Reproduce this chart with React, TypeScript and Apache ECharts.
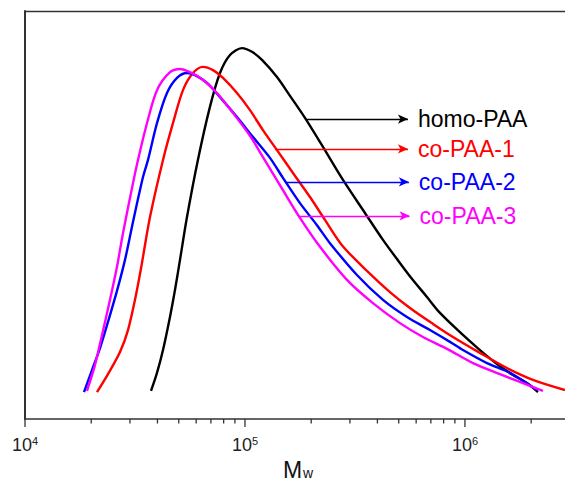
import React, { useEffect, useRef } from "react";
import * as echarts from "echarts";

const seriesNames = ["homo-PAA", "co-PAA-1", "co-PAA-2", "co-PAA-3"];
const seriesColors = ["#000000", "#ff0000", "#0000ff", "#ff00ff"];

const homoX = [37400, 39810, 42400, 45610, 48060, 50650, 54500, 61100, 69300, 77000, 85500, 96900, 107600, 119500, 139800, 160200, 187400, 226200, 279000, 351200, 424000, 491000, 562000, 672000, 770000, 979000, 1170000, 1398000, 1653000, 1913000, 2147000];
const homoY = [0.069, 0.113, 0.169, 0.25, 0.316, 0.39, 0.495, 0.635, 0.765, 0.848, 0.892, 0.909, 0.9, 0.88, 0.838, 0.792, 0.738, 0.667, 0.586, 0.505, 0.439, 0.392, 0.35, 0.299, 0.26, 0.206, 0.169, 0.135, 0.108, 0.088, 0.066];

const co1X = [21250, 23840, 27030, 29390, 31620, 33700, 37000, 42400, 47060, 52260, 58010, 64450, 71550, 79430, 91960, 105400, 120700, 139800, 165300, 197500, 231000, 276000, 358500, 456100, 562300, 715500, 882000, 1170000, 1552000, 2037000, 2848000];
const co1Y = [0.066, 0.11, 0.164, 0.218, 0.292, 0.37, 0.495, 0.635, 0.725, 0.806, 0.848, 0.863, 0.855, 0.836, 0.799, 0.757, 0.708, 0.659, 0.603, 0.544, 0.488, 0.426, 0.363, 0.311, 0.272, 0.233, 0.201, 0.162, 0.125, 0.096, 0.071];

const co2X = [18540, 20160, 21930, 23840, 26190, 28480, 30970, 34390, 36240, 39810, 44200, 49090, 54500, 59260, 67200, 76980, 91960, 108800, 129900, 148800, 177800, 212500, 243400, 322900, 424000, 545000, 693400, 854800, 979300, 1259000, 1602000, 2125000];
const co2Y = [0.066, 0.12, 0.174, 0.238, 0.314, 0.39, 0.483, 0.593, 0.635, 0.725, 0.799, 0.836, 0.848, 0.843, 0.824, 0.789, 0.74, 0.691, 0.64, 0.591, 0.529, 0.475, 0.431, 0.353, 0.292, 0.25, 0.218, 0.189, 0.169, 0.137, 0.113, 0.071];

const co3X = [19130, 20800, 22390, 24340, 26190, 27900, 30970, 32630, 35850, 39810, 45610, 50650, 56230, 64450, 74600, 88200, 105400, 120700, 148800, 177800, 219300, 290900, 381700, 506500, 644500, 828400, 1088000, 1443000, 1778000, 2262000];
const co3Y = [0.069, 0.132, 0.206, 0.292, 0.373, 0.456, 0.578, 0.635, 0.725, 0.806, 0.85, 0.858, 0.85, 0.831, 0.799, 0.75, 0.694, 0.642, 0.561, 0.493, 0.422, 0.341, 0.284, 0.235, 0.201, 0.172, 0.137, 0.11, 0.091, 0.069];

// annotation arrows (data coordinates)
const arrowStart = [191300, 136900, 152000, 174200];
const arrowEnd = [550700, 550700, 556000, 560000];
const arrowY = [0.735, 0.662, 0.581, 0.498];

const majorTicks = [1e4, 1e5, 1e6];
const minorTicks = [
  2e4, 3e4, 4e4, 5e4, 6e4, 7e4, 8e4, 9e4,
  2e5, 3e5, 4e5, 5e5, 6e5, 7e5, 8e5, 9e5,
  2e6,
];

const X_MIN = 1e4;
const X_MAX = 2.85e6;

const FONT = "'Liberation Sans', Arial, Helvetica, sans-serif";

export default function App() {
  const ref = useRef<HTMLDivElement>(null);
  useEffect(() => {
    if (!ref.current) return;
    const chart = echarts.init(ref.current, undefined, { renderer: "svg" });
    const xs = [homoX, co1X, co2X, co3X];
    const ys = [homoY, co1Y, co2Y, co3Y];

    const lineSeries = seriesNames.map((name, i) => ({
      name,
      type: "line",
      data: xs[i].map((x, j) => [x, ys[i][j]]),
      showSymbol: false,
      smooth: 0.3,
      lineStyle: { color: seriesColors[i], width: 2.4 },
      itemStyle: { color: seriesColors[i] },
      z: 2 + i,
      markLine: {
        silent: true,
        animation: false,
        symbol: ["none", "arrow"],
        symbolSize: [7, 10],
        lineStyle: { color: seriesColors[i], width: 1.3, type: "solid" },
        label: {
          show: true,
          position: "end",
          formatter: name,
          color: seriesColors[i],
          fontSize: 23,
          fontFamily: FONT,
          distance: 10,
        },
        data: [[{ coord: [arrowStart[i], arrowY[i]] }, { coord: [arrowEnd[i], arrowY[i]] }]],
      },
    }));

    const tickData = [
      ...majorTicks.map((v) => [v, 8]),
      ...minorTicks.map((v) => [v, 4.5]),
    ];

    const tickSeries = {
      type: "custom",
      silent: true,
      clip: false,
      data: tickData,
      encode: { x: 0 },
      renderItem: (params: any, api: any) => {
        const v = api.value(0);
        const len = api.value(1);
        const p = api.coord([v, 0]);
        return {
          type: "line",
          shape: { x1: p[0], y1: p[1], x2: p[0], y2: p[1] + len },
          style: { stroke: "#333", lineWidth: 1.3 },
        };
      },
      z: 10,
    };

    chart.setOption({
      animation: false,
      backgroundColor: "#ffffff",
      grid: { left: 25, right: 0, top: 11, bottom: 64, containLabel: false },
      xAxis: [
        {
          type: "log",
          logBase: 10,
          min: X_MIN,
          max: X_MAX,
          axisLine: { show: true, lineStyle: { color: "#333", width: 1.5 } },
          axisTick: { show: false },
          minorTick: { show: false },
          splitLine: { show: false },
          axisLabel: {
            show: true,
            margin: 16,
            showMaxLabel: false,
            formatter: (v: number) => {
              const l = Math.log10(v);
              const e = Math.round(l);
              if (Math.abs(l - e) > 1e-6) return "";
              return `{b|10}{s|${e}}`;
            },
            rich: {
              b: { fontSize: 18, fontFamily: FONT, color: "#222" },
              s: { fontSize: 11, fontFamily: FONT, color: "#222", padding: [0, 0, 9, 0] },
            },
          },
        },
        {
          type: "log",
          logBase: 10,
          min: X_MIN,
          max: X_MAX,
          position: "top",
          axisLine: { show: true, lineStyle: { color: "#333", width: 1.3 } },
          axisTick: { show: false },
          axisLabel: { show: false },
          splitLine: { show: false },
        },
      ],
      yAxis: {
        type: "value",
        min: 0,
        max: 1,
        axisLine: { show: true, lineStyle: { color: "#333", width: 2 } },
        axisTick: { show: false },
        axisLabel: { show: false },
        splitLine: { show: false },
      },
      graphic: [
        {
          type: "text",
          left: 283,
          top: 458,
          style: { text: "M", fontSize: 23, fontFamily: FONT, fill: "#111" },
        },
        {
          type: "text",
          left: 303,
          top: 466,
          style: { text: "w", fontSize: 14, fontFamily: FONT, fill: "#111" },
        },
      ],
      series: [...lineSeries, tickSeries],
    });
    return () => chart.dispose();
  }, []);
  return (
    <div
      ref={ref}
      style={{ position: "fixed", left: 0, top: 0, width: 565, height: 483 }}
    />
  );
}
